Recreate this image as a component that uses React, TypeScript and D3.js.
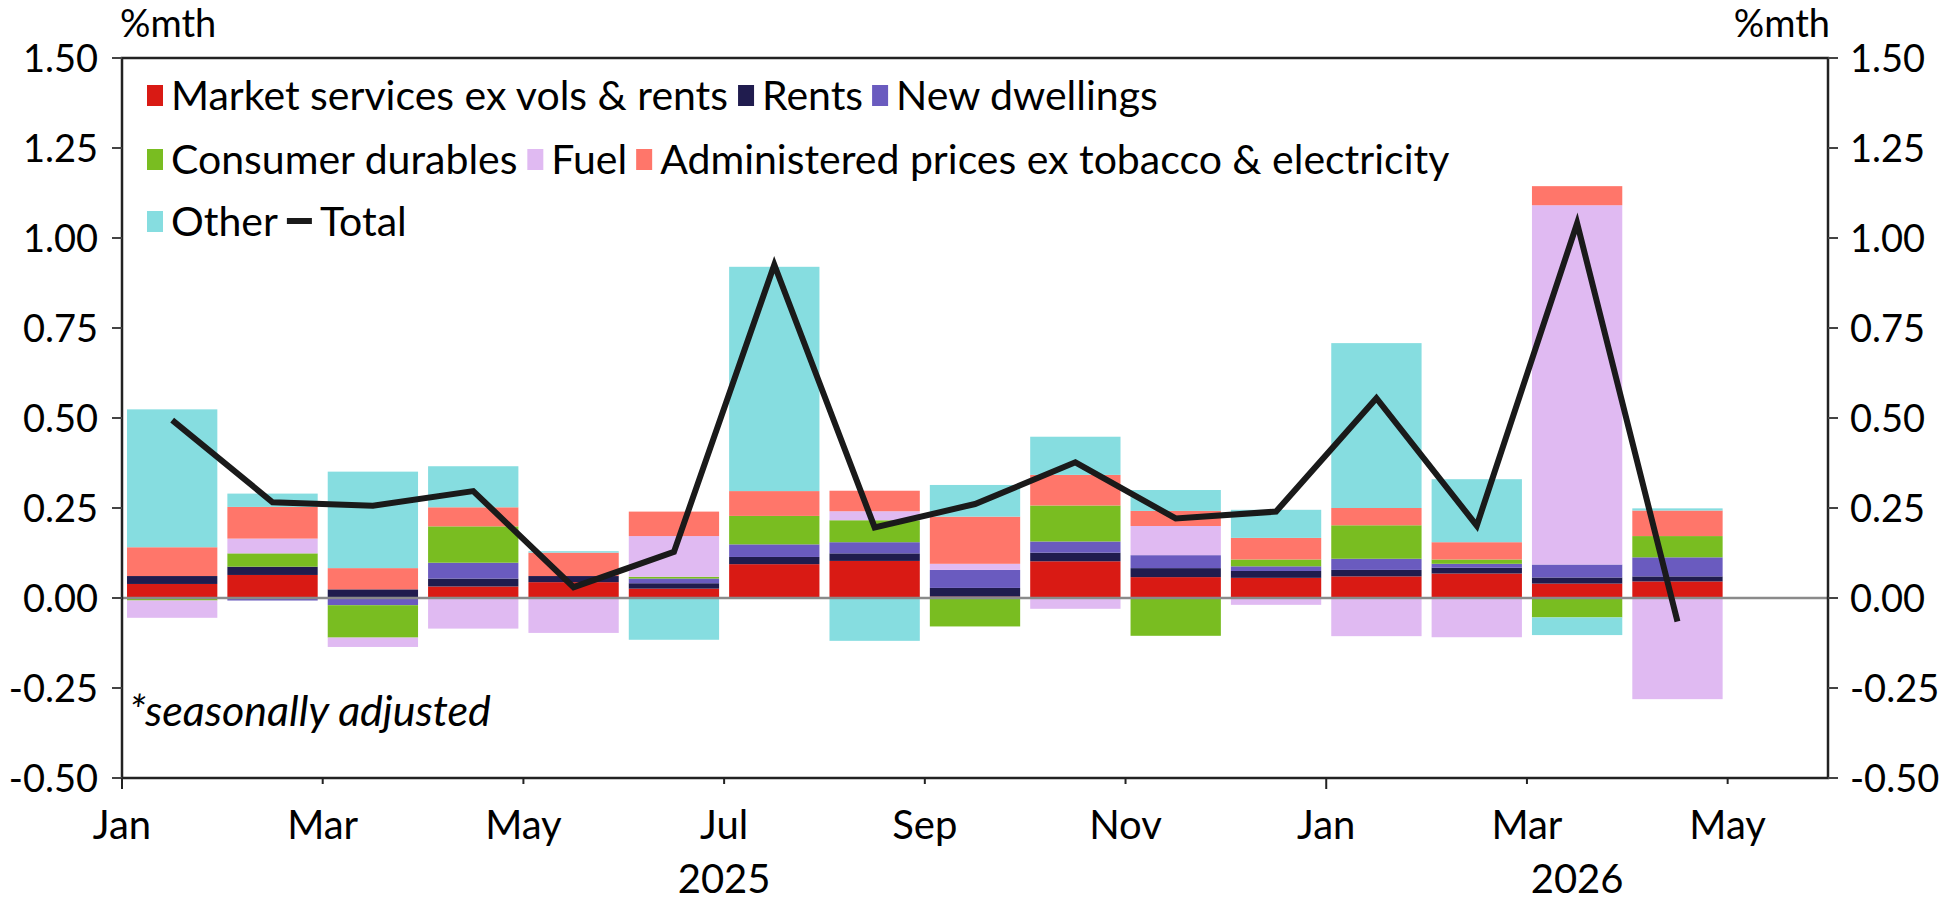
import React from 'react';
import * as d3 from 'd3';

// ---- data ----
const months = ['2025-01','2025-02','2025-03','2025-04','2025-05','2025-06','2025-07','2025-08','2025-09','2025-10','2025-11','2025-12','2026-01','2026-02','2026-03','2026-04'];
const marketServices = [0.039, 0.064, 0.000, 0.032, 0.044, 0.026, 0.094, 0.103, 0.004, 0.102, 0.058, 0.056, 0.060, 0.068, 0.040, 0.046];
const rents = [0.022, 0.023, 0.024, 0.022, 0.017, 0.015, 0.020, 0.021, 0.024, 0.024, 0.025, 0.019, 0.018, 0.016, 0.017, 0.014];
const newDwellings = [0.000, -0.007, -0.020, 0.044, 0.000, 0.013, 0.035, 0.031, 0.050, 0.031, 0.036, 0.013, 0.031, 0.011, 0.036, 0.053];
const consumerDurables = [-0.007, 0.037, -0.090, 0.101, 0.000, 0.005, 0.079, 0.061, -0.079, 0.100, -0.105, 0.019, 0.093, 0.012, -0.054, 0.059];
const fuel = [-0.048, 0.041, -0.026, -0.085, -0.097, 0.113, 0.000, 0.025, 0.017, -0.030, 0.081, -0.019, -0.106, -0.109, 0.998, -0.281];
const administered = [0.080, 0.088, 0.059, 0.053, 0.065, 0.068, 0.069, 0.057, 0.131, 0.085, 0.042, 0.060, 0.048, 0.048, 0.053, 0.071];
const other = [0.383, 0.037, 0.268, 0.114, 0.004, -0.116, 0.623, -0.119, 0.088, 0.106, 0.058, 0.078, 0.458, 0.175, -0.049, 0.006];
const total = [0.494, 0.266, 0.256, 0.297, 0.030, 0.128, 0.926, 0.196, 0.261, 0.377, 0.221, 0.240, 0.555, 0.201, 1.041, -0.065];

const seriesNames = ['Market services ex vols & rents', 'Rents', 'New dwellings', 'Consumer durables', 'Fuel', 'Administered prices ex tobacco & electricity', 'Other'];
const seriesValues = [marketServices, rents, newDwellings, consumerDurables, fuel, administered, other];
const seriesColors = ['#d91a14', '#201c4e', '#6a5bbf', '#79bd21', '#e0baf2', '#ff766a', '#86dde0'];
const totalName = 'Total';
const legendRows = [[0, 1, 2], [3, 4, 5], [6, -1]];

const xTickLabels = ['Jan', 'Mar', 'May', 'Jul', 'Sep', 'Nov', 'Jan', 'Mar', 'May'];
const yearLabels = ['2025', '2026'];
const yTicks = [-0.5, -0.25, 0, 0.25, 0.5, 0.75, 1.0, 1.25, 1.5];
const unitLabel = '%mth';
const noteLabel = '*seasonally adjusted';

// ---- layout ----
const W = 1959, H = 901;
const L = 122, R = 1828, T = 58, B = 778;
const FONT = 'Lato, "Noto Sans", sans-serif';
const FS = 38;
const FS_LEG = 41;
const FS_NOTE = 43;
const nMonthsAxis = 17;

function measure(text: string, font: string) {
  const c = document.createElement('canvas').getContext('2d')!;
  c.font = font;
  return c.measureText(text).width;
}

export default function App() {
  const x = d3.scaleLinear().domain([0, nMonthsAxis]).range([L, R]);
  const y = d3.scaleLinear().domain([-0.5, 1.5]).range([B, T]);
  const monthW = x(1) - x(0);
  const barW = monthW * 0.9;

  const table = months.map((m, i) => {
    const row: any = { m, i };
    seriesNames.forEach((n, k) => (row[n] = seriesValues[k][i]));
    return row;
  });
  const stack = d3.stack<any>().keys(seriesNames).offset(d3.stackOffsetDiverging);
  const layers = stack(table);

  const line = d3.line<number>().x((_, i) => x(i + 0.5)).y((d) => y(d));

  const xTickIdx = xTickLabels.map((_, k) => k * 2);
  const yearStarts = [0, 12];
  const yearCenters = yearStarts.map((s, k) => (x(s) + x(k + 1 < yearStarts.length ? yearStarts[k + 1] : nMonthsAxis)) / 2);

  // legend layout
  const legendFont = `${FS_LEG}px Lato`;
  const rowY = [95, 159, 221];
  const legendItems: any[] = [];
  legendRows.forEach((row, r) => {
    let cx = 147;
    row.forEach((k) => {
      const name = k >= 0 ? seriesNames[k] : totalName;
      const isLine = k < 0;
      const sw = isLine ? 25 : 16;
      legendItems.push({ name, x: cx, y: rowY[r], color: k >= 0 ? seriesColors[k] : '#1a1a1a', isLine, sw });
      cx += sw + 8 + measure(name, legendFont) + 9;
    });
  });

  return (
    <svg width={W} height={H} style={{ position: 'absolute', left: 0, top: 0, background: '#fff' }} fontFamily={FONT}>
      {/* bars */}
      {layers.map((layer, k) => (
        <g key={k} fill={seriesColors[k]}>
          {layer.map((d, i) => {
            const y0 = y(d[0]), y1 = y(d[1]);
            const h = Math.abs(y0 - y1);
            if (h < 0.01) return null;
            return <rect key={i} x={x(i + 0.5) - barW / 2} width={barW} y={Math.min(y0, y1)} height={h} />;
          })}
        </g>
      ))}
      {/* zero line */}
      <line x1={L} x2={R} y1={y(0)} y2={y(0)} stroke="#8a8a8a" strokeWidth={2.5} />
      {/* total line */}
      <path d={line(total) || ''} fill="none" stroke="#1a1a1a" strokeWidth={6} strokeLinejoin="miter" />
      {/* frame */}
      <rect x={L} y={T} width={R - L} height={B - T} fill="none" stroke="#222" strokeWidth={2.5} />
      {/* y ticks */}
      {yTicks.map((t) => (
        <g key={t}>
          <line x1={L - 10} x2={L} y1={y(t)} y2={y(t)} stroke="#444" strokeWidth={2} />
          <line x1={R} x2={R + 10} y1={y(t)} y2={y(t)} stroke="#444" strokeWidth={2} />
          <text x={L - 24} y={y(t)} dy="0.36em" textAnchor="end" fontSize={FS} fill="#000">{t.toFixed(2)}</text>
          <text x={R + 22} y={y(t)} dy="0.36em" textAnchor="start" fontSize={FS} fill="#000">{t.toFixed(2)}</text>
        </g>
      ))}
      {/* x ticks */}
      {xTickIdx.map((t, k) => (
        <g key={k}>
          <line x1={x(t)} x2={x(t)} y1={B} y2={B + (t % 12 === 0 ? 11 : 6)} stroke="#222" strokeWidth={2} />
          <text x={x(t)} y={839} textAnchor="middle" fontSize={40} fill="#000">{xTickLabels[k]}</text>
        </g>
      ))}
      {yearLabels.map((lab, k) => (
        <text key={lab} x={yearCenters[k]} y={893} textAnchor="middle" fontSize={40} fill="#000">{lab}</text>
      ))}
      {/* unit labels */}
      <text x={L - 2} y={37} fontSize={38} fill="#000">{unitLabel}</text>
      <text x={R + 2} y={37} textAnchor="end" fontSize={38} fill="#000">{unitLabel}</text>
      {/* note */}
      <text x={129} y={726} fontSize={FS_NOTE} fontStyle="italic" fill="#000">{noteLabel}</text>
      {/* legend */}
      {legendItems.map((it, k) => (
        <g key={k}>
          {it.isLine ? (
            <line x1={it.x} x2={it.x + it.sw} y1={it.y} y2={it.y} stroke={it.color} strokeWidth={6} />
          ) : (
            <rect x={it.x} y={it.y - 10} width={it.sw} height={21} fill={it.color} />
          )}
          <text x={it.x + it.sw + 8} y={it.y} dy="0.36em" fontSize={FS_LEG} fill="#000">{it.name}</text>
        </g>
      ))}
    </svg>
  );
}
